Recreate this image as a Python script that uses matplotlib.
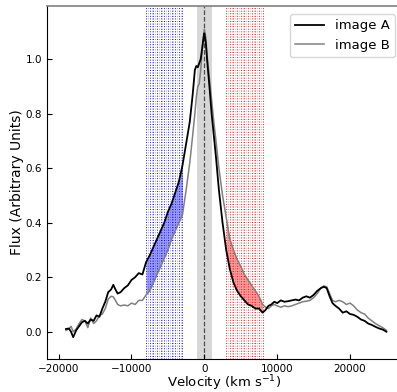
import numpy as np
import matplotlib
matplotlib.use("Agg")
import matplotlib.pyplot as plt

velocity = [-19000, -18600, -18300, -18000, -17600, -17200, -16800, -16400, -16000, -15600,
            -15200, -14800, -14400, -14000, -13600, -13200, -12800, -12500, -12200, -11900,
            -11500, -11000, -10500, -10000, -9500, -9000, -8500, -8000, -7500, -7000,
            -6500, -6000, -5500, -5000, -4500, -4000, -3500, -3000, -2500, -2000,
            -1600, -1300, -1100, -900, -700, -500, -300, -100, 0, 200,
            400, 700, 1000, 1300, 1600, 2000, 2500, 3000, 3500, 4000,
            4500, 5000, 5500, 6000, 6500, 7000, 7500, 8000, 8400, 8800,
            9200, 9600, 10000, 10500, 11000, 11500, 12000, 12500, 13000, 13500,
            14000, 14500, 15000, 15500, 16000, 16400, 16800, 17200, 17600, 18000,
            18500, 19000, 19500, 20000, 20500, 21000, 21500, 22000, 22500, 23000,
            23500, 24000, 24500, 25000]

flux_A = [0.010, 0.012, 0.000, -0.020, 0.005, 0.020, 0.035, 0.040, 0.030, 0.045,
          0.040, 0.060, 0.055, 0.085, 0.110, 0.145, 0.155, 0.172, 0.155, 0.140,
          0.145, 0.160, 0.170, 0.190, 0.200, 0.215, 0.210, 0.255, 0.280, 0.310,
          0.340, 0.370, 0.400, 0.440, 0.470, 0.510, 0.550, 0.610, 0.690, 0.770,
          0.870, 0.960, 0.975, 0.970, 0.985, 1.000, 1.040, 1.080, 1.095, 1.060,
          0.990, 0.900, 0.800, 0.720, 0.640, 0.520, 0.400, 0.300, 0.230, 0.180,
          0.150, 0.130, 0.115, 0.100, 0.095, 0.085, 0.085, 0.070, 0.080, 0.095,
          0.100, 0.110, 0.105, 0.115, 0.110, 0.112, 0.115, 0.118, 0.115, 0.125,
          0.130, 0.125, 0.135, 0.150, 0.160, 0.165, 0.160, 0.130, 0.105, 0.095,
          0.085, 0.070, 0.075, 0.065, 0.062, 0.055, 0.045, 0.040, 0.030, 0.025,
          0.018, 0.012, 0.008, 0.000]

flux_B = [0.005, 0.010, 0.020, 0.000, 0.010, 0.030, 0.045, 0.040, 0.015, 0.050,
          0.030, 0.040, 0.060, 0.065, 0.085, 0.120, 0.130, 0.128, 0.115, 0.100,
          0.095, 0.098, 0.095, 0.105, 0.100, 0.115, 0.115, 0.135, 0.150, 0.180,
          0.210, 0.240, 0.270, 0.300, 0.340, 0.370, 0.400, 0.430, 0.520, 0.620,
          0.720, 0.800, 0.860, 0.900, 0.910, 0.960, 1.030, 1.090, 1.110, 1.080,
          1.010, 0.930, 0.850, 0.770, 0.700, 0.600, 0.500, 0.420, 0.340, 0.300,
          0.265, 0.240, 0.210, 0.190, 0.170, 0.150, 0.130, 0.100, 0.090, 0.085,
          0.095, 0.100, 0.095, 0.090, 0.095, 0.092, 0.095, 0.100, 0.105, 0.110,
          0.112, 0.115, 0.125, 0.140, 0.160, 0.168, 0.165, 0.140, 0.115, 0.110,
          0.115, 0.110, 0.100, 0.105, 0.095, 0.080, 0.070, 0.065, 0.050, 0.040,
          0.030, 0.022, 0.015, 0.005]

blue_range = (-8000, -3000)
red_range = (3000, 8000)
line_step = 250
core_halfwidth = 1000

x_ticks = [-20000, -10000, 0, 10000, 20000]
y_ticks = [0.0, 0.2, 0.4, 0.6, 0.8, 1.0]

v = np.array(velocity)
fa = np.array(flux_A)
fb = np.array(flux_B)

fig = plt.figure(figsize=(3.97, 3.92), dpi=100)
ax = fig.add_axes([47/397, 33/392, 354/397, 353/392])

ax.axvspan(-core_halfwidth, core_halfwidth, color='lightgray', alpha=0.9, lw=0, zorder=0)
ax.axvline(0, color='0.3', ls='--', lw=0.9, zorder=1)

for i, xv in enumerate(np.arange(blue_range[0], blue_range[1] + 1, line_step)):
    ax.axvline(xv, color='blue', ls=':', lw=0.7, alpha=0.9 if i % 2 == 0 else 0.4, zorder=1)
for i, xv in enumerate(np.arange(red_range[0], red_range[1] + 1, line_step)):
    ax.axvline(xv, color='red', ls=':', lw=0.7, alpha=0.9 if i % 2 == 0 else 0.4, zorder=1)

mb = (v >= blue_range[0]) & (v <= blue_range[1])
mr = (v >= red_range[0]) & (v <= red_range[1])
ax.fill_between(v, fa, fb, where=mb, color='blue', alpha=0.4, lw=0, zorder=2)
ax.fill_between(v, fa, fb, where=mr, color='red', alpha=0.4, lw=0, zorder=2)

ax.plot(v, fa, color='black', lw=1.3, label='image A', zorder=4)
ax.plot(v, fb, color='gray', lw=1.1, label='image B', zorder=3)

ax.set_xlim(-21600, 27000)
ax.set_ylim(-0.1, 1.195)
ax.set_xticks(x_ticks)
ax.set_yticks(y_ticks)
ax.tick_params(direction='in', labelsize=7.5, length=3.5)
ax.spines['right'].set_visible(False)
ax.spines['top'].set_color('0.5')
ax.spines['top'].set_linewidth(1.2)

ax.set_xlabel('Velocity (km s$^{-1}$)', fontsize=9.5, labelpad=-0.5)
ax.set_ylabel('Flux (Arbitrary Units)', fontsize=10, labelpad=1)

ax.legend(loc='upper right', bbox_to_anchor=(0.983, 0.977), fontsize=9.5,
          handlelength=2.2, borderaxespad=0)

fig.savefig('out.png', dpi=100)
